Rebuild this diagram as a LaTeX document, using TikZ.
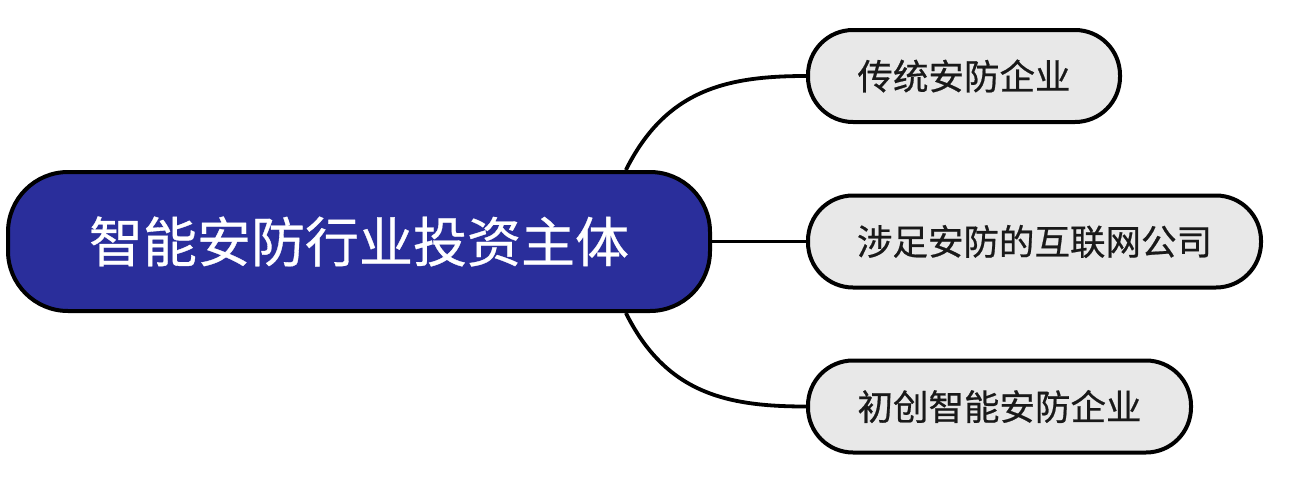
\documentclass[tikz,border=0pt]{standalone}
\usepackage{fontspec}
\newfontfamily\cjk[FakeBold=0.6]{Noto Sans CJK SC}
\usetikzlibrary{positioning}
\definecolor{rootblue}{RGB}{42,46,155}
\definecolor{leafgray}{RGB}{232,232,232}

\tikzset{
  root/.style={draw=black, line width=4pt, fill=rootblue, rounded corners=60pt,
    minimum width=702pt, minimum height=139pt, text=white,
    font=\cjk\fontsize{54}{62}\selectfont},
  leaf/.style={draw=black, line width=4pt, fill=leafgray, rounded corners=45pt,
    minimum height=92pt, inner xsep=0pt, text=black!90, anchor=west,
    font=\cjk\fontsize{35.5}{42}\selectfont},
  link/.style={draw=black, line width=3.8pt}
}

\begin{document}
\begin{tikzpicture}[x=1pt,y=-1pt]
\useasboundingbox (0,0) rectangle (1290,490);
\draw (359,241.5) node[root] (root) {智能安防行业投资主体};
%% leaves
\draw (806,76) node[leaf, minimum width=312pt] (trad) {传统安防企业};
\draw (806,241.5) node[leaf, minimum width=453pt] (inet) {涉足安防的互联网公司};
\draw (806,406.5) node[leaf, minimum width=383pt] (start) {初创智能安防企业};
%% links
\path[link] (root.15) .. controls +(40,-80) and +(-80,0) .. (trad.west);
\path[link] (root.east) -- (inet.west);
\path[link] (root.-15) .. controls +(40,80) and +(-80,0) .. (start.west);
\end{tikzpicture}
\end{document}
